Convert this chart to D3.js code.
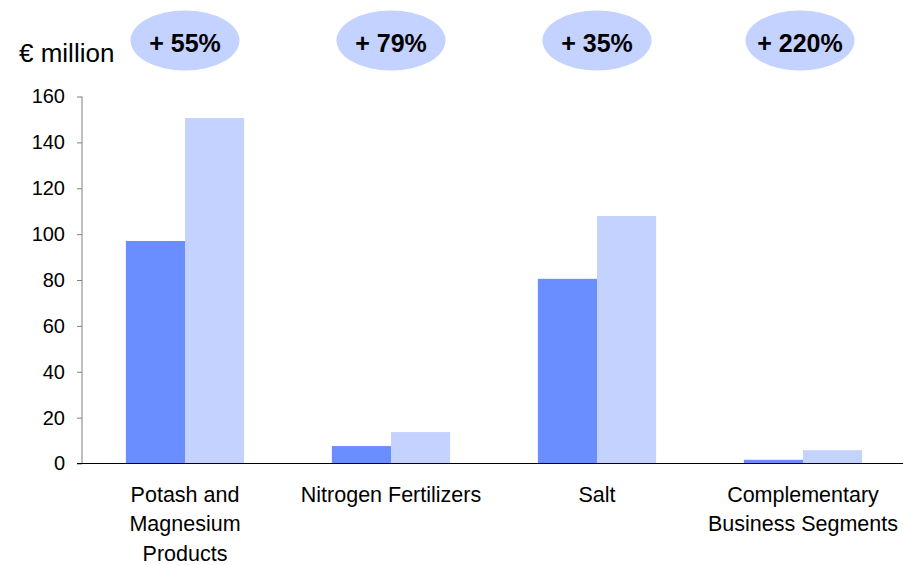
<!DOCTYPE html>
<html><head><meta charset="utf-8">
<script src="https://cdn.jsdelivr.net/npm/d3@7"></script>
<style>body{margin:0;background:#fff}svg{display:block}text{font-family:Arial,"Liberation Sans",sans-serif}</style>
</head><body><svg id="c" width="903" height="565"></svg>
<script>
const categories = [["Potash and","Magnesium","Products"],["Nitrogen Fertilizers"],["Salt"],["Complementary","Business Segments"]];
const series1 = [97.0, 7.6, 80.5, 1.6];
const series2 = [150.6, 13.7, 107.9, 5.8];
const growth = ["+ 55%","+ 79%","+ 35%","+ 220%"];
const yTicks = [0,20,40,60,80,100,120,140,160];
const unitLabel = "€ million";

const svg = d3.select("#c");
const y = d3.scaleLinear().domain([0,160]).range([463.5,96.5]);
const x = d3.scaleBand().domain(d3.range(4)).range([82,906]);
const sub = d3.scaleBand().domain([0,1]).range([x.bandwidth()*0.213, x.bandwidth()*0.787]);
const colors = ["#6A8DFF","#C4D2FF"];

// y axis
const ya = svg.append("g").attr("transform","translate(82,0)")
  .call(d3.axisLeft(y).tickValues(yTicks).tickSize(5).tickPadding(12));
ya.select(".domain").attr("stroke","#808080").attr("d","M0,96.5V463.5");
ya.selectAll(".tick line").attr("stroke","#808080");
ya.selectAll(".tick text").attr("font-size",20).attr("fill","#000").attr("font-family","Arial,'Liberation Sans',sans-serif");

// bars
const g = svg.append("g");
[series1, series2].forEach((s,si)=>{
  g.selectAll(".b"+si).data(s).join("rect")
   .attr("x",(d,i)=>x(i)+sub(si)).attr("width",sub.bandwidth())
   .attr("y",d=>y(d)).attr("height",d=>y(0)-y(d)).attr("fill",colors[si]);
});

// baseline
svg.append("line").attr("x1",77).attr("x2",903).attr("y1",y(0)).attr("y2",y(0)).attr("stroke","#000").attr("stroke-width",1);

// category labels
categories.forEach((lines,i)=>{
  const t = svg.append("text").attr("text-anchor","middle").attr("font-size",21.5).attr("fill","#000");
  lines.forEach((l,j)=>t.append("tspan").attr("x",x(i)+x.bandwidth()/2).attr("y",502+j*29.3).text(l));
});

// growth ellipses
growth.forEach((gr,i)=>{
  const cx = x(i)+x.bandwidth()/2 - (i===3?3:0);
  svg.append("ellipse").attr("cx",cx).attr("cy",40.5).attr("rx",54.5).attr("ry",30).attr("fill","#C4D2FF");
  svg.append("text").attr("x",cx).attr("y",52).attr("text-anchor","middle").attr("font-size",25).attr("font-weight","bold").attr("fill","#000").text(gr);
});

// unit label
svg.append("text").attr("x",19).attr("y",62).attr("font-size",26).attr("fill","#000").text(unitLabel);
</script></body></html>
